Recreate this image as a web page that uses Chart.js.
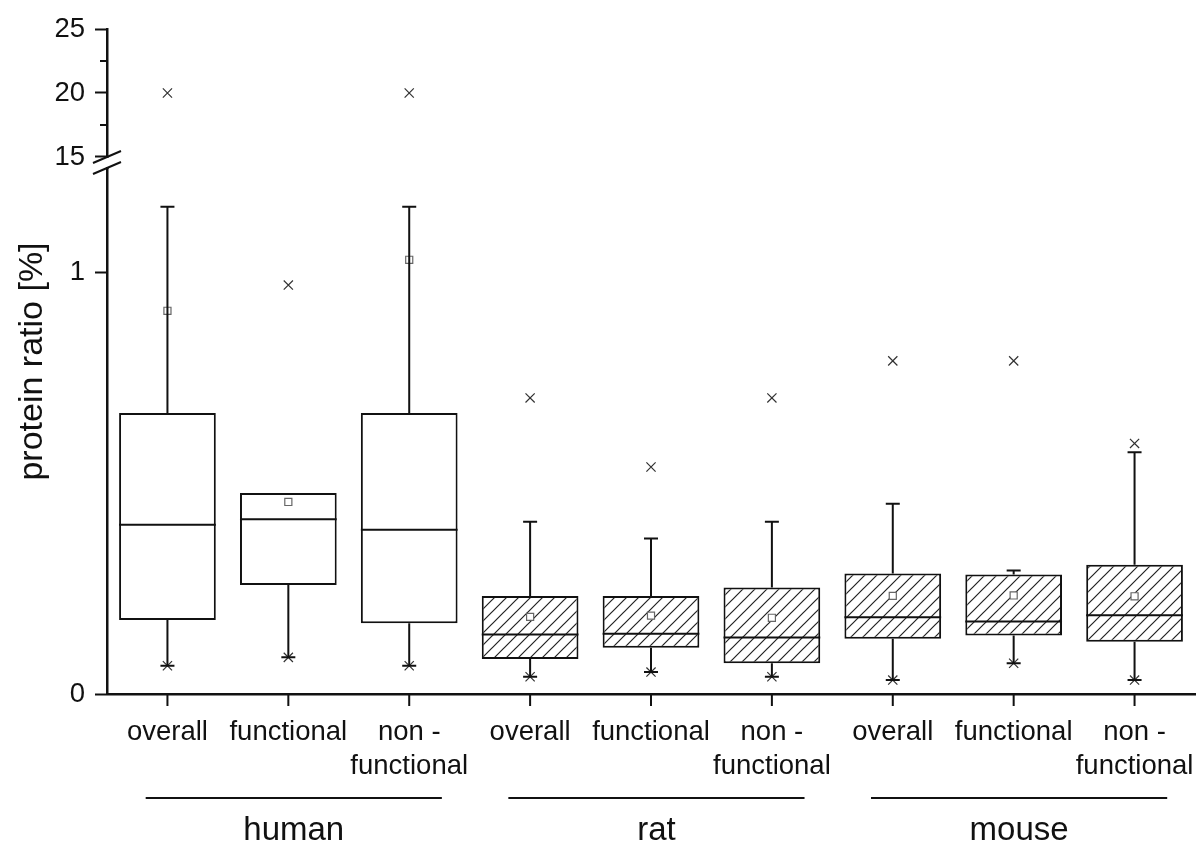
<!DOCTYPE html>
<html>
<head>
<meta charset="utf-8">
<script src="https://cdn.jsdelivr.net/npm/chart.js@4.4.1/dist/chart.umd.min.js"></script>
<style>
  html, body { margin: 0; padding: 0; background: #fff; }
  #graphique { width: 1197px; height: 846px; }
</style>
</head>
<body>
<div id="graphique"><canvas id="myChart"></canvas></div>
<script>
// catégories et groupes
const categories = [
  ['overall'], ['functional'], ['non -', 'functional'],
  ['overall'], ['functional'], ['non -', 'functional'],
  ['overall'], ['functional'], ['non -', 'functional']
];
const groupes = ['human', 'rat', 'mouse'];
const hachure = [false, false, false, true, true, true, true, true, true];

// statistiques des boîtes (protein ratio [%])
const minimum = [0.067, 0.087, 0.067, 0.041, 0.052, 0.041, 0.033, 0.073, 0.033];
const q1      = [0.176, 0.259, 0.168, 0.083, 0.110, 0.073, 0.131, 0.139, 0.124];
const mediane = [0.402, 0.415, 0.390, 0.141, 0.143, 0.134, 0.182, 0.172, 0.187];
const q3      = [0.667, 0.477, 0.667, 0.233, 0.233, 0.253, 0.286, 0.284, 0.307];
const maximum = [1.157, 0.477, 1.157, 0.409, 0.369, 0.409, 0.452, 0.293, 0.574];
const moyenne = [0.910, 0.456, 1.031, 0.183, 0.186, 0.181, 0.233, 0.234, 0.232];
// extrêmes (x) sur l'axe bas et sur l'axe haut (après la coupure)
const extremesBas  = [null, 0.971, null, 0.703, 0.539, 0.703, 0.791, 0.791, 0.595];
const extremesHaut = [20, null, 20, null, null, null, null, null, null];

// graduations
const ticksBas = [0, 1];
const ticksHaut = [15, 20, 25];
const ticksHautMineurs = [17.5, 22.5];

const police = "'Liberation Sans', Arial, sans-serif";
const noir = '#111';

// motif hachuré pour rat et souris
function motifHachure() {
  const c = document.createElement('canvas');
  c.width = 12; c.height = 12;
  const g = c.getContext('2d');
  g.fillStyle = '#fff';
  g.fillRect(0, 0, 12, 12);
  g.strokeStyle = '#222';
  g.lineWidth = 1.2;
  g.beginPath();
  g.moveTo(-3, 15); g.lineTo(15, -3);
  g.moveTo(-3, 3); g.lineTo(3, -3);
  g.moveTo(9, 15); g.lineTo(15, 9);
  g.stroke();
  return g.createPattern(c, 'repeat');
}

// moustaches, bouchons et médianes
const moustaches = {
  id: 'moustaches',
  afterDatasetsDraw(chart) {
    const { ctx } = chart;
    const x = chart.scales.x;
    const y = chart.scales.y;
    const barres = chart.getDatasetMeta(0).data;
    ctx.save();
    ctx.strokeStyle = noir;
    ctx.lineWidth = 2;
    categories.forEach((c, i) => {
      const cx = x.getPixelForValue(i);
      const demi = barres[i].width / 2;
      ctx.beginPath();
      if (maximum[i] > q3[i]) {
        ctx.moveTo(cx, y.getPixelForValue(q3[i]));
        ctx.lineTo(cx, y.getPixelForValue(maximum[i]));
        ctx.moveTo(cx - 7, y.getPixelForValue(maximum[i]));
        ctx.lineTo(cx + 7, y.getPixelForValue(maximum[i]));
      }
      ctx.moveTo(cx, y.getPixelForValue(q1[i]));
      ctx.lineTo(cx, y.getPixelForValue(minimum[i]));
      ctx.moveTo(cx - 7, y.getPixelForValue(minimum[i]));
      ctx.lineTo(cx + 7, y.getPixelForValue(minimum[i]));
      ctx.moveTo(cx - demi, y.getPixelForValue(mediane[i]));
      ctx.lineTo(cx + demi, y.getPixelForValue(mediane[i]));
      ctx.stroke();
    });
    ctx.restore();
  }
};

// coupure de l'axe, graduations, titre et groupes
const decor = {
  id: 'decor',
  afterDraw(chart) {
    const { ctx, chartArea } = chart;
    const x = chart.scales.x;
    const y = chart.scales.y;
    const yHaut = chart.scales.yHaut;
    const gauche = chartArea.left;
    ctx.save();

    ctx.strokeStyle = noir;
    ctx.lineWidth = 2;
    ctx.beginPath();
    // graduations de l'axe x (vers le bas)
    categories.forEach((c, i) => {
      const px = x.getPixelForValue(i);
      ctx.moveTo(px, chartArea.bottom);
      ctx.lineTo(px, chartArea.bottom + 12);
    });
    // graduations mineures de l'axe haut
    ticksHautMineurs.forEach(v => {
      const py = yHaut.getPixelForValue(v);
      ctx.moveTo(gauche - 7, py);
      ctx.lineTo(gauche, py);
    });
    ctx.stroke();

    // coupure
    const haut = yHaut.getPixelForValue(ticksHaut[0]) + 1;
    const bas = y.top - 1;
    ctx.fillStyle = '#fff';
    ctx.fillRect(gauche - 3, haut, 6, bas - haut);
    ctx.lineWidth = 2;
    ctx.beginPath();
    [haut - 1, bas + 1].forEach(py => {
      ctx.moveTo(gauche - 14, py + 6);
      ctx.lineTo(gauche + 14, py - 6);
    });
    ctx.stroke();

    // titre de l'axe y
    ctx.fillStyle = noir;
    ctx.font = '34px ' + police;
    ctx.textAlign = 'center';
    ctx.textBaseline = 'middle';
    ctx.translate(33, (yHaut.top + y.bottom) / 2);
    ctx.rotate(-Math.PI / 2);
    ctx.fillText('protein ratio [%]', 0, 0);
    ctx.setTransform(1, 0, 0, 1, 0, 0);

    // lignes et noms des groupes
    const largeur = x.getPixelForValue(1) - x.getPixelForValue(0);
    ctx.font = '33px ' + police;
    ctx.lineWidth = 2;
    groupes.forEach((nom, g) => {
      const debut = x.getPixelForValue(g * 3) - 0.18 * largeur;
      const fin = x.getPixelForValue(g * 3 + 2) + 0.27 * largeur;
      const ligne = chartArea.bottom + 104;
      ctx.beginPath();
      ctx.moveTo(debut, ligne);
      ctx.lineTo(fin, ligne);
      ctx.stroke();
      ctx.fillText(nom, (debut + fin) / 2, ligne + 33);
    });
    ctx.restore();
  }
};

const motif = motifHachure();
const ctx = document.getElementById('myChart');

new Chart(ctx, {
  type: 'bar',
  data: {
    labels: categories,
    datasets: [
      {
        type: 'bar',
        data: q1.map((v, i) => [v, q3[i]]),
        backgroundColor: c => hachure[c.dataIndex] ? motif : '#fff',
        borderColor: noir,
        borderWidth: 2,
        borderSkipped: false,
        barPercentage: 0.8,
        categoryPercentage: 1,
        yAxisID: 'y',
        order: 2
      },
      {
        type: 'line',
        data: moyenne,
        showLine: false,
        pointStyle: 'rect',
        pointRadius: 5,
        pointBorderWidth: 1.2,
        pointBorderColor: '#666',
        pointBackgroundColor: '#fff',
        yAxisID: 'y',
        order: 1
      },
      {
        type: 'line',
        data: extremesBas,
        showLine: false,
        pointStyle: 'crossRot',
        pointRadius: 6.5,
        pointBorderWidth: 1.2,
        pointBorderColor: '#333',
        yAxisID: 'y',
        order: 1
      },
      {
        type: 'line',
        data: minimum,
        showLine: false,
        pointStyle: 'crossRot',
        pointRadius: 6.5,
        pointBorderWidth: 1.2,
        pointBorderColor: '#333',
        yAxisID: 'y',
        order: 1
      },
      {
        type: 'line',
        data: extremesHaut,
        showLine: false,
        pointStyle: 'crossRot',
        pointRadius: 6.5,
        pointBorderWidth: 1.2,
        pointBorderColor: '#333',
        yAxisID: 'yHaut',
        order: 1
      }
    ]
  },
  options: {
    responsive: true,
    maintainAspectRatio: false,
    animation: false,
    layout: { autoPadding: false, padding: { top: 29, right: 2, left: 0, bottom: 0 } },
    plugins: {
      legend: { display: false },
      tooltip: { enabled: false }
    },
    scales: {
      x: {
        type: 'category',
        offset: true,
        // graduations dessinées par le plugin, ici seulement l'écart des étiquettes
        grid: { offset: false, drawOnChartArea: false, tickLength: 21, tickColor: 'rgba(0,0,0,0)' },
        border: { color: noir, width: 2.5 },
        ticks: {
          color: noir, font: { size: 27.5, family: police, lineHeight: 1.25 },
          padding: 0, maxRotation: 0, autoSkip: false
        },
        afterFit: s => { s.height = 152; }
      },
      y: {
        type: 'linear',
        position: 'left',
        stack: 'axe',
        stackWeight: 526,
        min: 0,
        max: 1.249,
        afterBuildTicks: s => { s.ticks = ticksBas.map(v => ({ value: v })); },
        grid: { drawOnChartArea: false, tickLength: 12, tickColor: noir, tickWidth: 2 },
        border: { color: noir, width: 2.5 },
        ticks: { color: noir, font: { size: 27.5, family: police }, padding: 10 },
        afterFit: s => { s.width = 107; }
      },
      yHaut: {
        type: 'linear',
        position: 'left',
        stack: 'axe',
        stackWeight: 139,
        min: 14.14,
        max: 25,
        afterBuildTicks: s => { s.ticks = ticksHaut.map(v => ({ value: v })); },
        grid: { drawOnChartArea: false, tickLength: 12, tickColor: noir, tickWidth: 2 },
        border: { color: noir, width: 2.5 },
        ticks: { color: noir, font: { size: 27.5, family: police }, padding: 10 },
        afterFit: s => { s.width = 107; }
      }
    }
  },
  plugins: [moustaches, decor]
});
</script>
</body>
</html>
